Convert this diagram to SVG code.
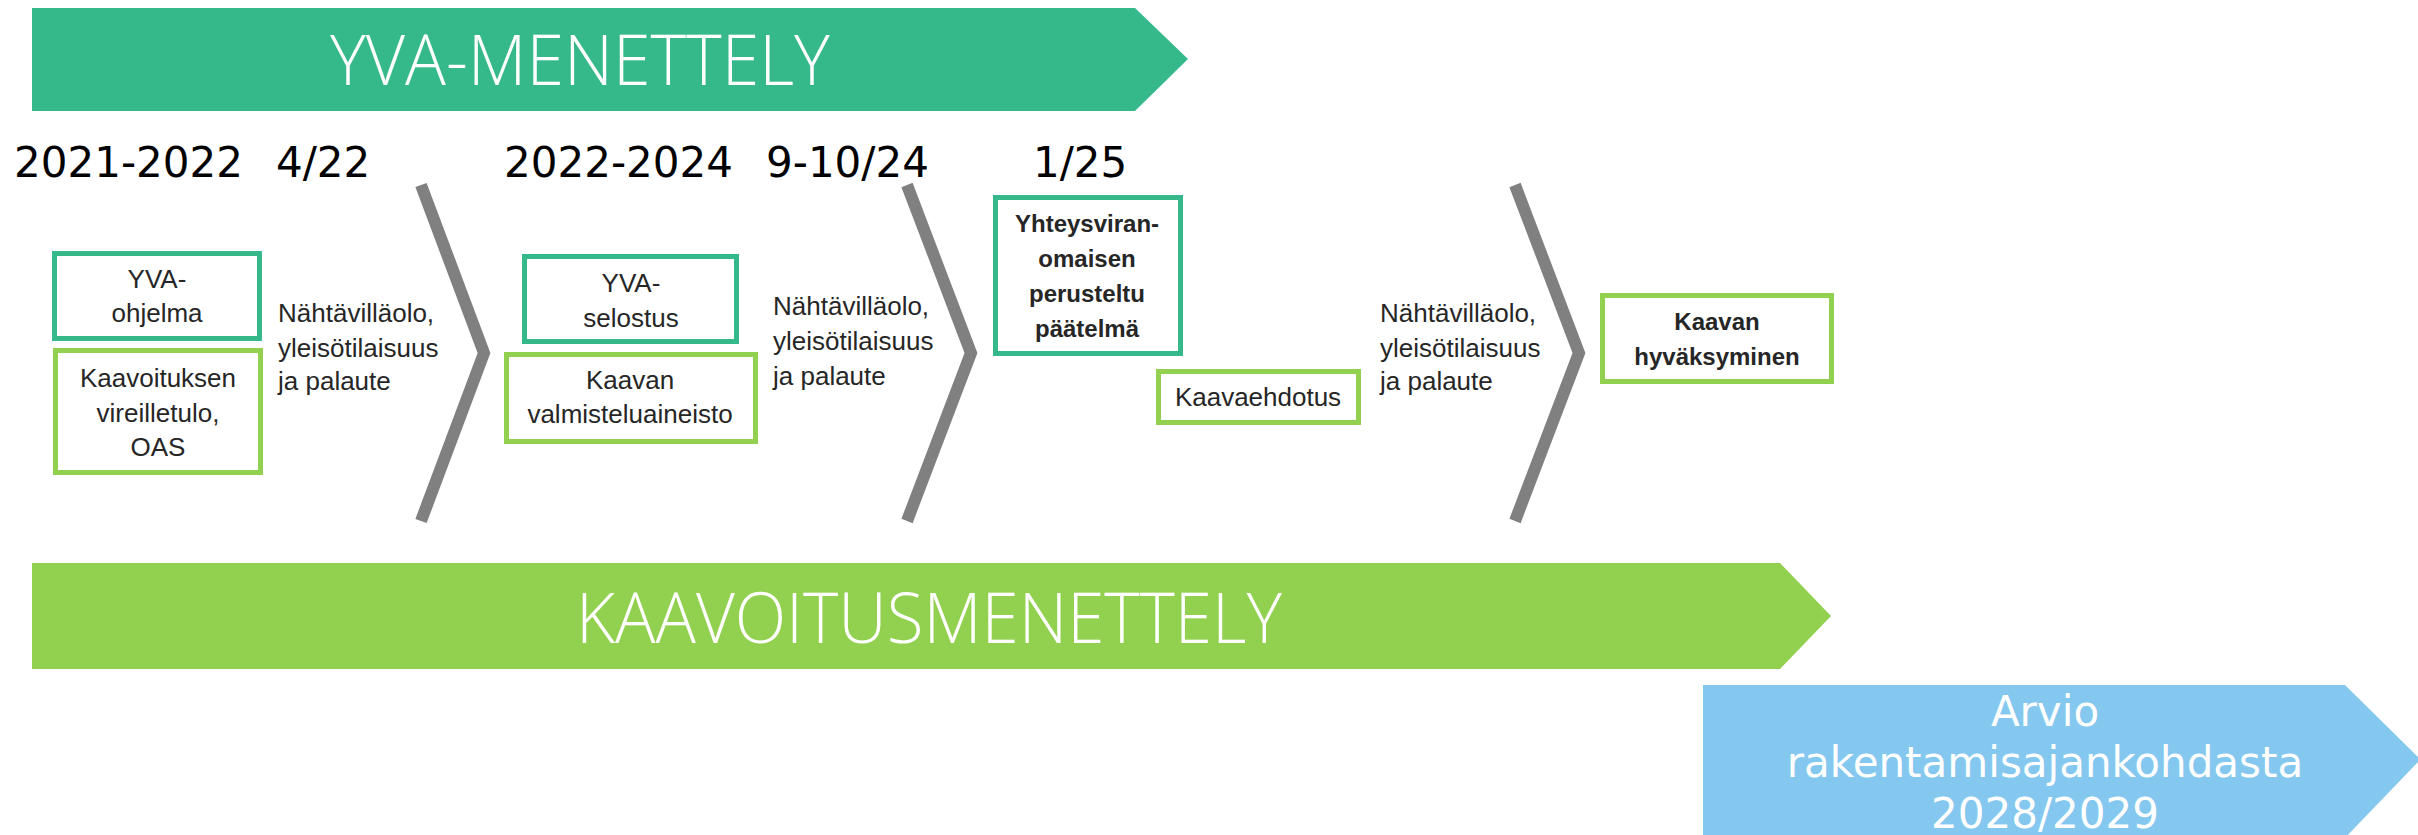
<svg xmlns="http://www.w3.org/2000/svg" width="2418" height="835" viewBox="0 0 2418 835">
<style>
.bg{fill:#ffffff}
.teal{fill:#36b98a}
.lime{fill:#92d050}
.sky{fill:#85c8ef}
.bandtxt{font-family:"Open Sans","Liberation Sans",sans-serif;font-weight:300;fill:#ffffff;text-anchor:middle}
.date{font-family:"DejaVu Sans",sans-serif;font-size:42px;fill:#000000}
.boxT{fill:#ffffff;stroke:#36b98a;stroke-width:5}
.boxG{fill:#ffffff;stroke:#92d050;stroke-width:5}
.t{font-family:"Liberation Sans",Arial,sans-serif;font-size:26px;fill:#262626}
.c{text-anchor:middle}
.b{font-weight:bold;font-size:24px}
.chev{fill:none;stroke:#808080;stroke-width:12;stroke-linejoin:miter}
.sky-t{font-family:"DejaVu Sans",sans-serif;font-size:42px;fill:#ffffff;text-anchor:middle}
</style>
<rect class="bg" x="0" y="0" width="2418" height="835"/>

<g id="yva-menettely">
<polygon class="teal" points="32,8 1135,8 1188,59 1135,111 32,111"/>
<text class="bandtxt" x="580" y="85" font-size="70" textLength="500" lengthAdjust="spacingAndGlyphs">YVA-MENETTELY</text>
</g>

<g id="kaavoitusmenettely">
<polygon class="lime" points="32,563 1780,563 1831,616 1780,669 32,669"/>
<text class="bandtxt" x="929" y="643" font-size="70" textLength="706" lengthAdjust="spacingAndGlyphs">KAAVOITUSMENETTELY</text>
</g>

<g id="rakentaminen">
<polygon class="sky" points="1703,685 2345,685 2418,757 2418,762 2343,840 1703,840"/>
<text class="sky-t"><tspan x="2045" y="726">Arvio</tspan><tspan x="2045" y="777">rakentamisajankohdasta</tspan><tspan x="2045" y="828">2028/2029</tspan></text>
</g>

<g id="dates">
<text class="date" x="14" y="177">2021-2022</text>
<text class="date" x="276" y="177">4/22</text>
<text class="date" x="504" y="177">2022-2024</text>
<text class="date" x="766" y="177">9-10/24</text>
<text class="date" x="1033" y="177">1/25</text>
</g>

<g id="chevrons">
<polyline class="chev" points="421,185 484,353 421,521"/>
<polyline class="chev" points="907,185 971,353 907,521"/>
<polyline class="chev" points="1515,185 1579,353 1515,521"/>
</g>

<g id="yva-ohjelma">
<rect class="boxT" x="54.5" y="253.5" width="205" height="85"/>
<text class="t c"><tspan x="157" y="288">YVA-</tspan><tspan x="157" y="322">ohjelma</tspan></text>
</g>

<g id="kaavoituksen-vireilletulo">
<rect class="boxG" x="55.5" y="350.5" width="205" height="122"/>
<text class="t c"><tspan x="158" y="387">Kaavoituksen</tspan><tspan x="158" y="422">vireilletulo,</tspan><tspan x="158" y="456">OAS</tspan></text>
</g>

<g id="nahtavillaolo-1">
<text class="t"><tspan x="278" y="322">Nähtävilläolo,</tspan><tspan x="278" y="357">yleisötilaisuus</tspan><tspan x="278" y="390">ja palaute</tspan></text>
</g>

<g id="yva-selostus">
<rect class="boxT" x="524.5" y="256.5" width="212" height="85"/>
<text class="t c"><tspan x="631" y="292">YVA-</tspan><tspan x="631" y="327">selostus</tspan></text>
</g>

<g id="kaavan-valmisteluaineisto">
<rect class="boxG" x="506.5" y="354.5" width="249" height="87"/>
<text class="t c"><tspan x="630" y="389">Kaavan</tspan><tspan x="630" y="423">valmisteluaineisto</tspan></text>
</g>

<g id="nahtavillaolo-2">
<text class="t"><tspan x="773" y="315">Nähtävilläolo,</tspan><tspan x="773" y="350">yleisötilaisuus</tspan><tspan x="773" y="385">ja palaute</tspan></text>
</g>

<g id="perusteltu-paatelma">
<rect class="boxT" x="995.5" y="197.5" width="185" height="156"/>
<text class="t c b"><tspan x="1087" y="232">Yhteysviran-</tspan><tspan x="1087" y="267">omaisen</tspan><tspan x="1087" y="302">perusteltu</tspan><tspan x="1087" y="337">päätelmä</tspan></text>
</g>

<g id="kaavaehdotus">
<rect class="boxG" x="1158.5" y="371.5" width="200" height="51"/>
<text class="t c" x="1258" y="406">Kaavaehdotus</text>
</g>

<g id="nahtavillaolo-3">
<text class="t"><tspan x="1380" y="322">Nähtävilläolo,</tspan><tspan x="1380" y="357">yleisötilaisuus</tspan><tspan x="1380" y="390">ja palaute</tspan></text>
</g>

<g id="kaavan-hyvaksyminen">
<rect class="boxG" x="1602.5" y="295.5" width="229" height="86"/>
<text class="t c b"><tspan x="1717" y="330">Kaavan</tspan><tspan x="1717" y="365">hyväksyminen</tspan></text>
</g>
</svg>
